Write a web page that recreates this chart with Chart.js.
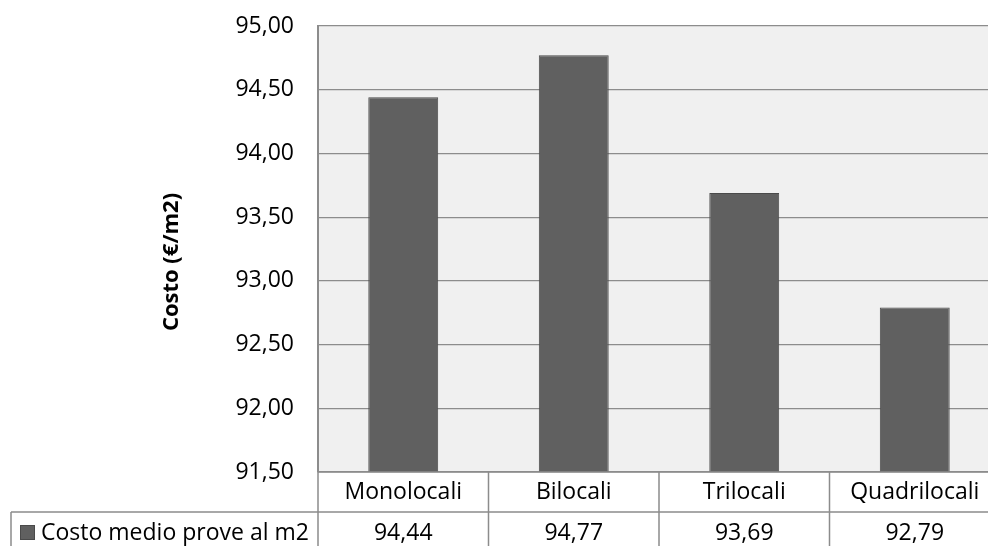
<!DOCTYPE html>
<html>
<head>
<meta charset="utf-8">
<script src="https://cdn.jsdelivr.net/npm/chart.js@4.4.1/dist/chart.umd.min.js"></script>
<style>
  html, body { margin: 0; padding: 0; background: #fff; overflow: hidden; }
  #wrap { width: 1000px; height: 546px; }
</style>
</head>
<body>
<div id="wrap"><canvas id="chart"></canvas></div>
<script>
// data
const categories = ["Monolocali", "Bilocali", "Trilocali", "Quadrilocali"];
const costValues = [94.44, 94.77, 93.69, 92.79];
const seriesName = "Costo medio prove al m2";
const axisTitle = "Costo (€/m2)";
const yMin = 91.5, yMax = 95, yStep = 0.5;

const fmt = v => v.toFixed(2).replace(".", ",");
const FONT = "'Open Sans', sans-serif";
const lineCol = "#8c8c8c";
const barFill = "#606060";
const barEdge = "#4a4a4a";

// plot background + data table + axis title
const excelBits = {
    id: "excelBits",
    beforeDraw(chart) {
        const { ctx, chartArea: a } = chart;
        ctx.save();
        ctx.fillStyle = "#f0f0f0";
        ctx.fillRect(a.left, a.top, a.right - a.left, a.bottom - a.top);
        ctx.restore();
    },
    afterDraw(chart) {
        const { ctx, chartArea: a, scales } = chart;
        const x = scales.x;
        const half = (a.right - a.left) / categories.length / 2;
        const row1 = a.bottom, row2 = a.bottom + 40, row3 = a.bottom + 80;
        ctx.save();
        ctx.strokeStyle = lineCol;
        ctx.lineWidth = 1.5;
        ctx.beginPath();
        // horizontal rules
        ctx.moveTo(a.left, row1); ctx.lineTo(a.right, row1);
        ctx.moveTo(11, row2); ctx.lineTo(a.right, row2);
        // left edge of legend cell
        ctx.moveTo(11, row2); ctx.lineTo(11, row3);
        // column separators
        categories.forEach((c, i) => {
            const cx = x.getPixelForValue(i);
            ctx.moveTo(cx - half, row1); ctx.lineTo(cx - half, row3);
            ctx.moveTo(cx + half, row1); ctx.lineTo(cx + half, row3);
        });
        ctx.stroke();

        ctx.fillStyle = "#000";
        ctx.font = "23px " + FONT;
        ctx.textAlign = "center";
        ctx.textBaseline = "middle";
        categories.forEach((c, i) => {
            const cx = x.getPixelForValue(i);
            ctx.fillText(c, cx, row1 + 20);
            ctx.fillText(fmt(costValues[i]), cx, row2 + 21);
        });

        // legend key + series name
        ctx.fillStyle = barFill;
        ctx.fillRect(20, row2 + 13, 15, 15);
        ctx.strokeStyle = barEdge;
        ctx.lineWidth = 1;
        ctx.strokeRect(20.5, row2 + 13.5, 14, 14);
        ctx.fillStyle = "#000";
        ctx.textAlign = "left";
        ctx.fillText(seriesName, 41, row2 + 21);

        // axis title
        ctx.translate(172, 262);
        ctx.rotate(-Math.PI / 2);
        ctx.textAlign = "center";
        ctx.font = "bold 22px " + FONT;
        ctx.fillText(axisTitle, 0, 0);
        ctx.restore();
    }
};

new Chart(document.getElementById("chart"), {
    type: "bar",
    data: {
        labels: categories,
        datasets: [{
            label: seriesName,
            data: costValues,
            backgroundColor: barFill,
            borderColor: barEdge,
            borderWidth: 1,
            barPercentage: 0.41,
            categoryPercentage: 1
        }]
    },
    options: {
        responsive: true,
        maintainAspectRatio: false,
        animation: false,
        layout: { padding: { top: 26, bottom: 74, left: 0, right: 0 } },
        plugins: { legend: { display: false }, tooltip: { enabled: false } },
        scales: {
            x: { display: false },
            y: {
                min: yMin,
                max: yMax,
                afterFit(s) { s.width = 318; s.paddingTop = 0; s.paddingBottom = 0; },
                ticks: {
                    stepSize: yStep,
                    padding: 24,
                    color: "#000",
                    font: { family: FONT, size: 23 },
                    callback: v => fmt(v)
                },
                grid: { color: lineCol, lineWidth: 1.2, drawTicks: false },
                border: { color: lineCol, width: 2 }
            }
        }
    },
    plugins: [excelBits]
});
</script>
</body>
</html>
